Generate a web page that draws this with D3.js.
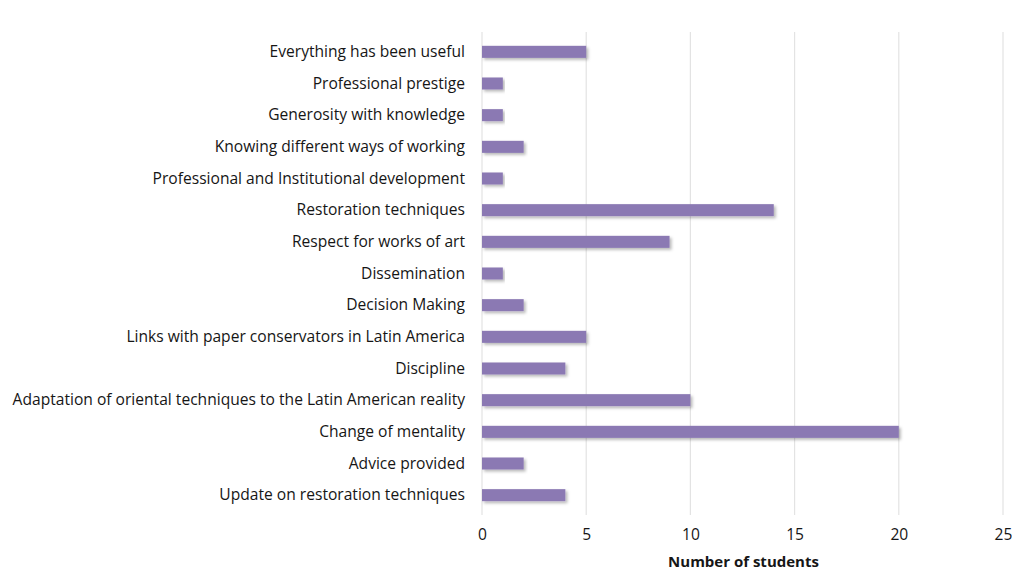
<!DOCTYPE html>
<html>
<head>
<meta charset="utf-8">
<script src="https://cdn.jsdelivr.net/npm/d3@7"></script>
<style>
  body { margin: 0; background: #fff; }
  svg text { font-family: "Open Sans", "Noto Sans", sans-serif; fill: #161616; }
</style>
</head>
<body>
<div id="chart"></div>
<script>
// categories, top to bottom
var categories = [
  "Everything has been useful",
  "Professional prestige",
  "Generosity with knowledge",
  "Knowing different ways of working",
  "Professional and Institutional development",
  "Restoration techniques",
  "Respect for works of art",
  "Dissemination",
  "Decision Making",
  "Links with paper conservators in Latin America",
  "Discipline",
  "Adaptation of oriental techniques to the Latin American reality",
  "Change of mentality",
  "Advice provided",
  "Update on restoration techniques"
];
var students = [5, 1, 1, 2, 1, 14, 9, 1, 2, 5, 4, 10, 20, 2, 4];
var xTicks = [0, 5, 10, 15, 20, 25];
var xTitle = "Number of students";

var width = 1012, height = 575;
var margin = {top: 36, right: 9, bottom: 63, left: 482};

var svg = d3.select("#chart").append("svg")
    .attr("width", width)
    .attr("height", height);

// soft shadow under the bars
var defs = svg.append("defs");
var shadow = defs.append("filter").attr("id", "shadow")
    .attr("x", "-5%").attr("y", "-40%").attr("width", "115%").attr("height", "200%");
shadow.append("feDropShadow")
    .attr("dx", 2).attr("dy", 2).attr("stdDeviation", 1.6)
    .attr("flood-color", "#000").attr("flood-opacity", 0.28);

var x = d3.scaleLinear()
    .domain([0, 25])
    .range([margin.left, width - margin.right]);

var y = d3.scaleBand()
    .domain(categories)
    .range([margin.top, height - margin.bottom - 1])
    .paddingInner(0.62)
    .paddingOuter(0.31);

// vertical grid
svg.append("g").selectAll("line")
    .data(xTicks)
    .enter().append("line")
    .attr("x1", function(d) { return x(d); })
    .attr("x2", function(d) { return x(d); })
    .attr("y1", margin.top - 4)
    .attr("y2", height - margin.bottom + 3)
    .attr("stroke", "#e3e3e3")
    .attr("stroke-width", 1.2);

// bars
svg.append("g").selectAll("rect")
    .data(students)
    .enter().append("rect")
    .attr("x", x(0))
    .attr("y", function(d, i) { return y(categories[i]); })
    .attr("width", function(d) { return x(d) - x(0); })
    .attr("height", y.bandwidth())
    .attr("fill", "#8b79b3")
    .attr("filter", "url(#shadow)");

// category labels
var yAxis = svg.append("g")
    .attr("transform", "translate(" + (margin.left - 17) + ",0)")
    .call(d3.axisLeft(y).tickSize(0).tickPadding(0));
yAxis.select(".domain").remove();
yAxis.selectAll("text")
    .style("font-size", "15.6px")
    .attr("dy", "0.34em");

// x axis labels
var xAxis = svg.append("g")
    .attr("transform", "translate(0," + (height - margin.bottom) + ")")
    .call(d3.axisBottom(x).tickValues(xTicks).tickSize(0).tickPadding(17));
xAxis.select(".domain").remove();
xAxis.selectAll("text").style("font-size", "15.6px");

// x axis title
svg.append("text")
    .attr("x", (x(0) + x(25)) / 2 + 1)
    .attr("y", 567)
    .attr("text-anchor", "middle")
    .style("font-size", "15px")
    .style("font-weight", "bold")
    .text(xTitle);
</script>
</body>
</html>
